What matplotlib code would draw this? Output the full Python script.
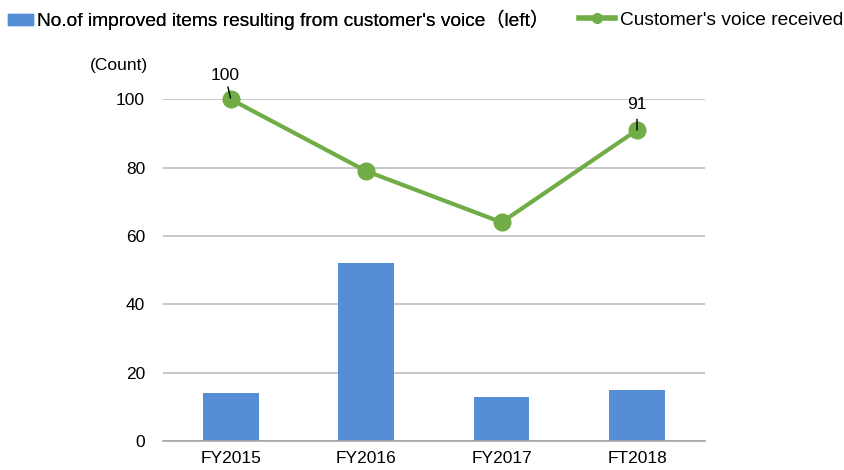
import matplotlib.pyplot as plt
from matplotlib.lines import Line2D
from matplotlib.patches import Patch

plt.rcParams['font.family'] = ['Liberation Sans', 'Noto Sans CJK JP', 'DejaVu Sans']

# chart data
years = ["FY2015", "FY2016", "FY2017", "FT2018"]
improved_items = [14, 52, 13, 15]
voices_received = [100, 79, 64, 91]

bar_color = "#558ED5"
line_color = "#70AD47"

fig = plt.figure(figsize=(8.45, 4.7), dpi=100)
ax = fig.add_axes([0.193, 0.0617, 0.641, 0.727])

x = range(len(years))
ax.bar(x, improved_items, width=0.41, color=bar_color, zorder=2)
ax.plot(x, voices_received, color=line_color, lw=3, marker="o", ms=12,
        zorder=3, clip_on=False)

ax.set_xlim(-0.5, len(years) - 0.5)
ax.set_ylim(0, 100)
ax.set_yticks([0, 20, 40, 60, 80, 100])
ax.set_xticks(list(x))
ax.set_xticklabels(years)
ax.tick_params(axis="both", length=0, labelsize=12.5, colors="black")
ax.tick_params(axis="y", pad=13)
ax.tick_params(axis="x", pad=7)
ax.yaxis.grid(True, color="#BFBFBF", lw=1.2, zorder=0)
for s in ["top", "right", "left"]:
    ax.spines[s].set_visible(False)
ax.spines["bottom"].set_color("#A6A6A6")
ax.spines["bottom"].set_linewidth(1.2)

# data labels with leader lines for first and last point
ax.annotate(str(voices_received[0]), xy=(0, voices_received[0]),
            xytext=(-4, 14), textcoords="offset points", ha="center",
            fontsize=12.5, arrowprops=dict(arrowstyle="-", color="black",
                                           lw=1, shrinkA=1, shrinkB=1))
ax.annotate(str(voices_received[3]), xy=(3, voices_received[3]),
            xytext=(0, 15), textcoords="offset points", ha="center",
            fontsize=12.5, arrowprops=dict(arrowstyle="-", color="black",
                                           lw=1, shrinkA=3, shrinkB=0))

fig.text(0.106, 0.852, "(Count)", fontsize=12.5)

leg1 = fig.legend(handles=[Patch(color=bar_color,
                  label="No.of improved items resulting from customer's voice（left）")],
                  loc="center left", bbox_to_anchor=(0.0, 0.957),
                  frameon=False, fontsize=13.8, handlelength=1.3,
                  handleheight=0.5, handletextpad=0.25, borderaxespad=0)
fig.add_artist(leg1)
fig.legend(handles=[Line2D([], [], color=line_color, lw=4, marker="o", ms=7,
                           label="Customer's voice received")],
           loc="center left", bbox_to_anchor=(0.676, 0.957),
           frameon=False, fontsize=13.8, handlelength=1.9,
           handletextpad=0.25, borderaxespad=0)

fig.savefig("out.png", dpi=100)
